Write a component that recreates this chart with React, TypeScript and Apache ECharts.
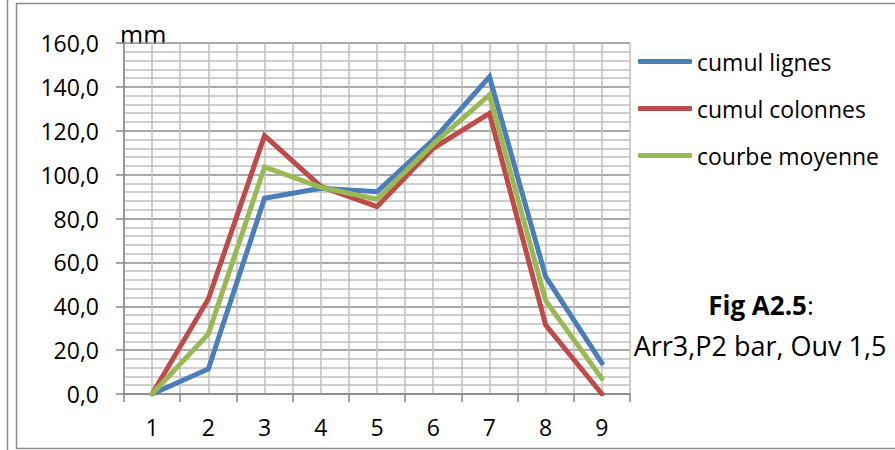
import React, { useEffect, useRef } from "react";
import * as echarts from "echarts";

// Abscissa: measurement positions 1..9
const positions = ["1", "2", "3", "4", "5", "6", "7", "8", "9"];

// Cumulative values in mm
const cumulLignes = [0, 11.4, 89.2, 93.8, 92.2, 115.8, 144.6, 53.5, 14.1];
const cumulColonnes = [0, 43.3, 117.8, 94.6, 85.4, 112.0, 127.9, 31.4, 0];
const courbeMoyenne = [0, 27.4, 103.5, 94.2, 88.8, 113.9, 136.3, 42.5, 7.0];

const seriesNames = ["cumul lignes", "cumul colonnes", "courbe moyenne"];
const seriesColors = ["#4a7ebb", "#be4b48", "#98b954"];

const FONT = "'Open Sans', 'Noto Sans', sans-serif";

export default function App() {
  const ref = useRef<HTMLDivElement>(null);

  useEffect(() => {
    if (!ref.current) return;
    const chart = echarts.init(ref.current, null, { renderer: "svg" });
    const values = [cumulLignes, cumulColonnes, courbeMoyenne];

    chart.setOption({
      animation: false,
      backgroundColor: "#ffffff",
      textStyle: { fontFamily: FONT },
      grid: { left: 124, top: 43, right: 265, bottom: 56, containLabel: false },
      legend: {
        orient: "vertical",
        left: 638,
        top: 50,
        padding: 0,
        itemWidth: 54,
        itemHeight: 5,
        itemGap: 24,
        icon: "roundRect",
        textStyle: { fontFamily: FONT, fontSize: 23, color: "#000" },
        data: seriesNames,
      },
      xAxis: [
        {
          type: "category",
          data: positions,
          boundaryGap: true,
          axisLine: { show: true, lineStyle: { color: "#868686", width: 1.5 } },
          axisTick: { show: true, length: 8, lineStyle: { color: "#868686", width: 1.5 } },
          axisLabel: { fontFamily: FONT, fontSize: 23, color: "#000", margin: 21 },
          splitLine: { show: false },
        },
        {
          // gridline-only axis: vertical lines at category edges and centres
          type: "value",
          min: 0.5,
          max: 9.5,
          interval: 0.5,
          position: "bottom",
          axisLine: { show: false },
          axisTick: { show: false },
          axisLabel: { show: false },
          splitLine: { show: true, lineStyle: { color: "#bfbfbf", width: 1.5 } },
        },
      ],
      yAxis: {
        type: "value",
        min: 0,
        max: 160,
        interval: 20,
        axisLine: { show: true, lineStyle: { color: "#868686", width: 1.5 } },
        axisTick: { show: true, length: 8, lineStyle: { color: "#868686", width: 1.5 } },
        axisLabel: {
          fontFamily: FONT,
          fontSize: 23,
          color: "#000",
          margin: 25,
          formatter: (v: number) => v.toFixed(1).replace(".", ","),
        },
        splitLine: { show: true, lineStyle: { color: "#8c8c8c", width: 1.5 } },
        minorTick: { show: false, splitNumber: 5 },
        minorSplitLine: { show: true, lineStyle: { color: "#bfbfbf", width: 1.5 } },
      },
      series: seriesNames.map((name, i) => ({
        name,
        type: "line",
        xAxisIndex: 0,
        data: values[i],
        symbol: "none",
        color: seriesColors[i],
        lineStyle: { width: 5, color: seriesColors[i], cap: "round", join: "miter" },
        z: 3 + i,
      })),
      graphic: [
        { type: "line", shape: { x1: 7.5, y1: 0, x2: 7.5, y2: 450 }, style: { stroke: "#8c8c8c", lineWidth: 1.5 } },
        { type: "line", shape: { x1: 16.5, y1: 3, x2: 16.5, y2: 449 }, style: { stroke: "#8c8c8c", lineWidth: 1.5 } },
        { type: "line", shape: { x1: 16, y1: 3.5, x2: 895, y2: 3.5 }, style: { stroke: "#8c8c8c", lineWidth: 1.5 } },
        { type: "line", shape: { x1: 16, y1: 448.5, x2: 895, y2: 448.5 }, style: { stroke: "#8c8c8c", lineWidth: 1.5 } },
        {
          type: "text",
          x: 120,
          y: 34,
          style: {
            text: "mm",
            verticalAlign: "middle",
            font: "25px 'Open Sans', sans-serif",
            fill: "#000",
          },
        },
        {
          type: "text",
          x: 761,
          y: 305,
          style: {
            text: "{b|Fig A2.5}{n|:}",
            align: "center",
            verticalAlign: "middle",
            fill: "#000",
            rich: {
              b: { font: "bold 26px 'Open Sans', sans-serif", fill: "#000" },
              n: { font: "26px 'Open Sans', sans-serif", fill: "#000" },
            },
          },
        },
        {
          type: "text",
          x: 760,
          y: 345,
          style: {
            text: "Arr3,P2 bar, Ouv 1,5",
            align: "center",
            verticalAlign: "middle",
            font: "27px 'Open Sans', sans-serif",
            fill: "#000",
          },
        },
      ],
    });

    return () => chart.dispose();
  }, []);

  return <div ref={ref} style={{ width: 895, height: 450, position: "absolute", left: 0, top: 0 }} />;
}
